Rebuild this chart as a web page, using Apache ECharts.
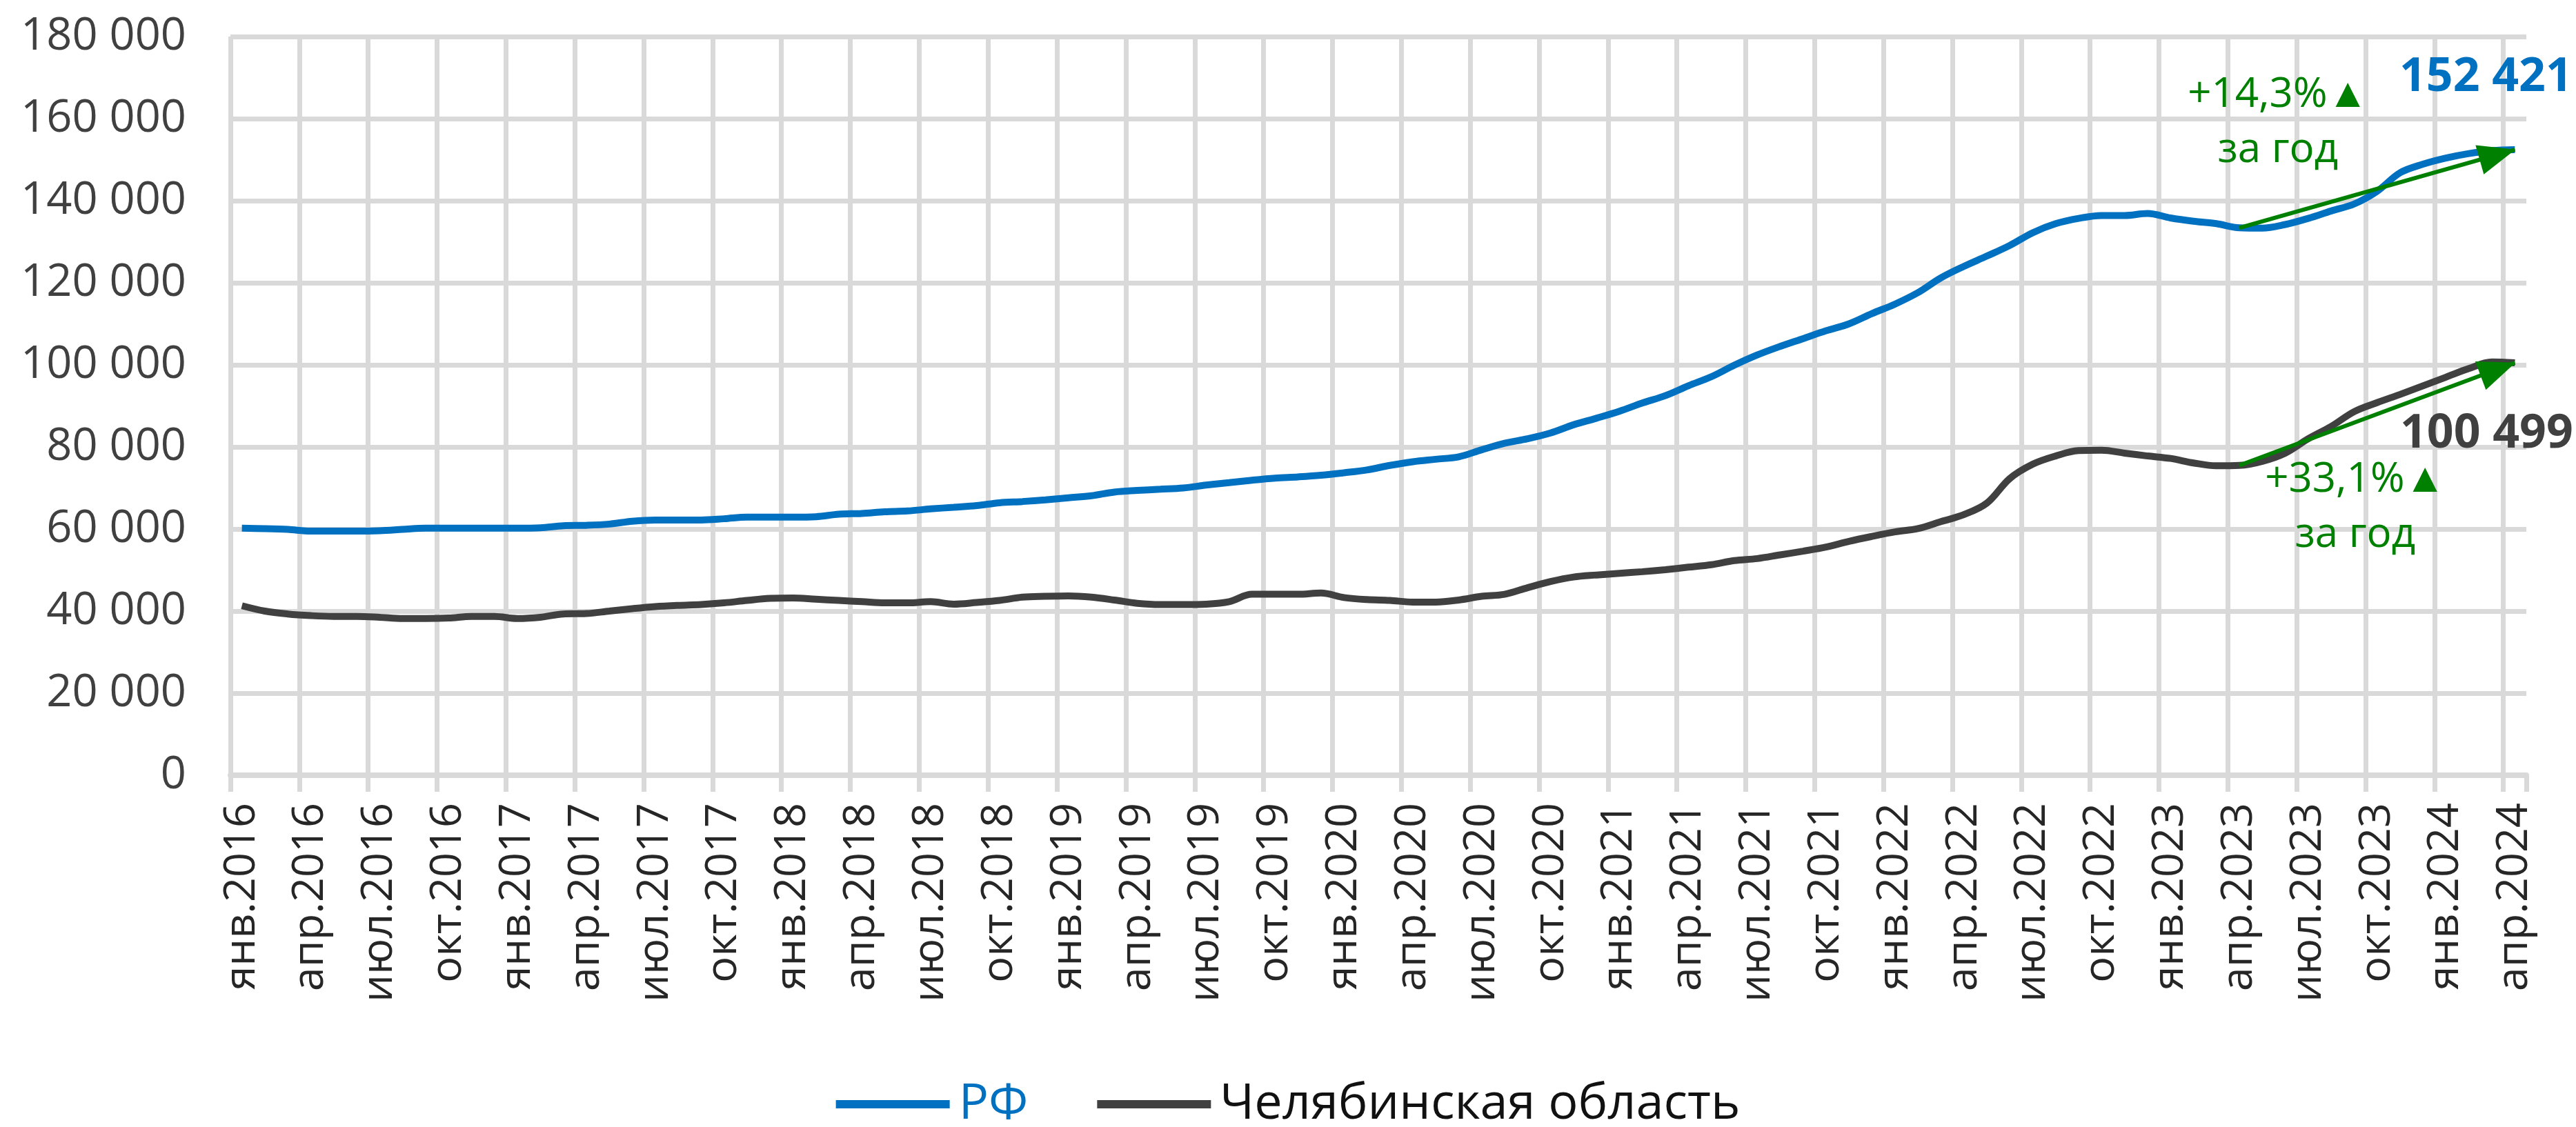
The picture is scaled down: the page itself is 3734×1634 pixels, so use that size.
<!DOCTYPE html>
<html>
<head>
<meta charset="utf-8">
<script src="https://cdn.jsdelivr.net/npm/echarts/dist/echarts.min.js"></script>
<style>
  html, body { margin: 0; padding: 0; background: #fff; }
</style>
</head>
<body>
<div id="main" style="width: 3734px;height:1634px;"></div>

<script type="text/javascript">
  // месяцы и годы для подписей оси X
  var months = ['янв', 'фев', 'мар', 'апр', 'май', 'июн', 'июл', 'авг', 'сен', 'окт', 'ноя', 'дек'];
  var firstYear = 2016;
  var monthCount = 100; // янв.2016 .. апр.2024

  // РФ, руб.
  var rf = [
    60200, 60100, 59900, 59500, 59500, 59500, 59600, 59900, 60200, 60200, 60200, 60200,
    60200, 60300, 60800, 60900, 61200, 61900, 62200, 62200, 62200, 62500, 62900, 62900,
    62900, 63000, 63600, 63800, 64200, 64400, 64900, 65300, 65700, 66400, 66700, 67100,
    67600, 68100, 69000, 69400, 69700, 70000, 70700, 71300, 71900, 72400, 72700, 73100,
    73700, 74400, 75500, 76400, 77000, 77600, 79300, 80900, 82000, 83400, 85400, 87000,
    88700, 90700, 92500, 94900, 97100, 99900, 102400, 104500, 106400, 108300, 110000, 112500,
    114800, 117600, 121200, 124000, 126500, 129100, 132200, 134400, 135700, 136400, 136400, 136900,
    135800, 135000, 134400, 133400, 133300, 134200, 135700, 137500, 139200, 142300, 146800, 148900,
    150400, 151500, 152200, 152421
  ];

  // Челябинская область, руб.
  var chel = [
    41300, 40000, 39300, 38900, 38700, 38700, 38500, 38200, 38200, 38300, 38700, 38700,
    38200, 38500, 39300, 39400, 40000, 40600, 41100, 41400, 41600, 42000, 42600, 43100,
    43200, 42900, 42600, 42300, 42000, 42000, 42300, 41700, 42100, 42600, 43400, 43600,
    43700, 43400, 42700, 41900, 41600, 41600, 41700, 42300, 44100, 44100, 44100, 44400,
    43300, 42800, 42600, 42200, 42200, 42700, 43600, 44100, 45700, 47200, 48300, 48800,
    49200, 49600, 50100, 50700, 51300, 52300, 52800, 53700, 54600, 55600, 57000, 58200,
    59300, 60100, 61800, 63500, 66300, 72300, 75800, 77800, 79100, 79200, 78500, 77800,
    77200, 76100, 75400, 75500, 76500, 78500, 82000, 85000, 88600, 90800, 92800, 94900,
    97000, 99100, 100700, 100499
  ];

  var yMin = 0;
  var yMax = 180000;
  var yStep = 20000;

  // подписи-выноски
  var rfGrowth = '+14,3%▲\nза год';
  var chelGrowth = '+33,1%▲\nза год';
  var baseIdx = 87; // апр.2023

  var categories = [];
  for (var i = 0; i < monthCount; i++) {
    categories.push(months[i % 12] + '.' + (firstYear + Math.floor(i / 12)));
  }
  var lastIdx = monthCount - 1;

  function fmt(v) {
    return String(v).replace(/\B(?=(\d{3})+(?!\d))/g, ' ');
  }

  var gridColor = '#d9d9d9';
  var green = '#008000';
  var font = 'Open Sans';

  function arrow(data) {
    return {
      silent: true,
      symbol: ['none', 'triangle'],
      symbolSize: [44, 54],
      symbolOffset: [[0, 0], [0, 26]],
      lineStyle: { color: green, width: 6, type: 'solid' },
      label: { show: false },
      emphasis: { disabled: true },
      data: [[
        { coord: [categories[baseIdx], data[baseIdx]] },
        { coord: [categories[lastIdx], data[lastIdx]] }
      ]]
    };
  }

  var option = {
    animation: false,
    textStyle: { fontFamily: font },
    grid: { left: 334, right: 72, top: 53, bottom: 510 },
    legend: {
      top: 1560,
      left: 'center',
      icon: 'rect',
      itemWidth: 165,
      itemHeight: 12,
      itemGap: 100,
      textStyle: { fontSize: 72, fontFamily: font, padding: [0, 0, 0, 8] },
      data: [
        { name: 'РФ', textStyle: { color: '#0070c0' } },
        { name: 'Челябинская область', textStyle: { color: '#111' } }
      ]
    },
    xAxis: {
      type: 'category',
      boundaryGap: true,
      data: categories,
      axisLine: { show: true, lineStyle: { color: gridColor, width: 8 } },
      axisTick: { show: true, interval: 2, length: 24, lineStyle: { color: gridColor, width: 7 } },
      splitLine: { show: true, interval: 2, showMaxLine: false, lineStyle: { color: gridColor, width: 7 } },
      axisLabel: {
        interval: 2,
        rotate: 90,
        margin: 40,
        fontSize: 63,
        color: '#262626',
        fontFamily: font
      }
    },
    yAxis: {
      type: 'value',
      min: yMin,
      max: yMax,
      interval: yStep,
      axisLine: { show: false },
      axisTick: { show: false },
      splitLine: { lineStyle: { color: gridColor, width: 7 } },
      axisLabel: {
        margin: 64,
        fontSize: 65,
        color: '#404040',
        fontFamily: font,
        formatter: fmt
      }
    },
    series: [
      {
        name: 'РФ',
        type: 'line',
        data: rf,
        smooth: 0.35,
        symbol: 'none',
        lineStyle: { color: '#0070c0', width: 10 },
        itemStyle: { color: '#0070c0' },
        markLine: arrow(rf),
        markPoint: {
          symbol: 'circle',
          symbolSize: 1,
          itemStyle: { color: 'rgba(0,0,0,0)' },
          label: { show: true, position: 'inside', align: 'center', verticalAlign: 'middle', fontFamily: font },
          data: [
            {
              coord: [categories[lastIdx], rf[lastIdx]],
              label: { formatter: fmt(rf[lastIdx]), color: '#0070c0', fontWeight: 'bold', fontSize: 68, offset: [-42, -104] }
            },
            {
              coord: [categories[baseIdx], rf[baseIdx]],
              label: { formatter: rfGrowth, color: green, fontSize: 60, lineHeight: 80, offset: [56, -152] }
            }
          ]
        }
      },
      {
        name: 'Челябинская область',
        type: 'line',
        data: chel,
        smooth: 0.35,
        symbol: 'none',
        lineStyle: { color: '#404040', width: 10 },
        itemStyle: { color: '#404040' },
        markLine: arrow(chel),
        markPoint: {
          symbol: 'circle',
          symbolSize: 1,
          itemStyle: { color: 'rgba(0,0,0,0)' },
          label: { show: true, position: 'inside', align: 'center', verticalAlign: 'middle', fontFamily: font },
          data: [
            {
              coord: [categories[lastIdx], chel[lastIdx]],
              label: { formatter: fmt(chel[lastIdx]), color: '#404040', fontWeight: 'bold', fontSize: 68, offset: [-41, 104] }
            },
            {
              coord: [categories[baseIdx], chel[baseIdx]],
              label: { formatter: chelGrowth, color: green, fontSize: 60, lineHeight: 80, offset: [168, 61] }
            }
          ]
        }
      }
    ]
  };

  var myChart = echarts.init(document.getElementById('main'));
  myChart.setOption(option);
</script>
</body>
</html>
